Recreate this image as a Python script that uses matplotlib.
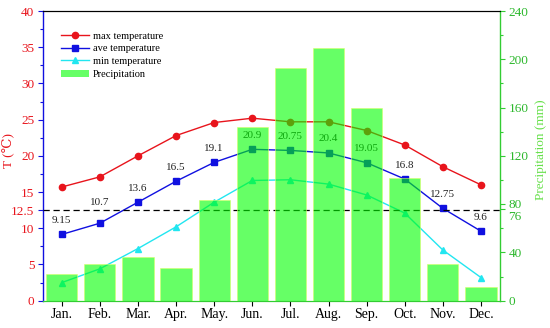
import matplotlib
matplotlib.use("Agg")
import matplotlib.pyplot as plt
import numpy as np
from matplotlib.ticker import MultipleLocator
from matplotlib.patches import Patch
from matplotlib.lines import Line2D
import matplotlib.transforms as mtransforms

months = ["Jan.", "Feb.", "Mar.", "Apr.", "May.", "Jun.", "Jul.", "Aug.", "Sep.", "Oct.", "Nov.", "Dec."]
t_max = [15.7, 17.1, 20.0, 22.8, 24.6, 25.2, 24.7, 24.7, 23.5, 21.5, 18.5, 16.0]
t_ave = [9.15, 10.7, 13.6, 16.5, 19.1, 20.9, 20.75, 20.4, 19.05, 16.8, 12.75, 9.6]
t_min = [2.5, 4.4, 7.2, 10.2, 13.6, 16.6, 16.7, 16.1, 14.6, 12.1, 7.0, 3.2]
precip = [22, 30.7, 36.2, 26.8, 83.4, 144.2, 193, 209, 159.4, 101.4, 30.1, 11.6]
ave_labels = ["9.15", "10.7", "13.6", "16.5", "19.1", "20.9", "20.75", "20.4", "19.05", "16.8", "12.75", "9.6"]
left_ticks = [0, 5, 10, 12.5, 15, 20, 25, 30, 35, 40]
right_ticks = [0, 40, 76, 80, 120, 160, 200, 240]
threshold = 12.5

plt.rcParams['font.family'] = ['Liberation Serif', 'DejaVu Serif']
RED = '#e8141c'
BLUE = '#1010e0'
CYAN = '#22e6f0'
GREEN_BAR = (0.0, 1.0, 0.0, 0.6)
GREEN_AX = '#33cc33'
GREEN_TXT = '#2db82d'

fig = plt.figure(figsize=(5.5, 3.28), dpi=100)
ax = fig.add_axes([42.7/550, 1 - 300.7/328, (500 - 42.7)/550, (300.7 - 11)/328])
x = np.arange(len(months))

ax.plot(x, t_max, '-o', color=RED, lw=1.0, ms=4.5, zorder=3, label='max temperature')
ax.plot(x, t_ave, '-s', color=BLUE, lw=1.0, ms=4.5, zorder=3, label='ave temperature')
ax.plot(x, t_min, '-^', color=CYAN, lw=1.0, ms=5, zorder=3, label='min temperature')
ax.axhline(threshold, color='black', ls=(0, (5, 3)), lw=0.9, zorder=3)
px_per_unit = (300.7 - 11) / 40.0
for xi, yi, s in zip(x, t_ave, ave_labels):
    off = 14
    # lift a label clear of the dashed threshold line if it would sit on it
    if abs(yi + off / px_per_unit - threshold) < 0.5:
        off = 21
    ax.annotate(s, (xi, yi), xytext=(0, off), textcoords='offset pixels',
                ha='center', va='center', fontsize=8, color='#222222', zorder=3)

ax.set_xlim(-0.5, 11.5)
ax.set_ylim(0, 40)
ax.set_xticks(x)
ax.set_xticklabels(months, fontsize=10)
ax.set_yticks(left_ticks)
ax.set_yticklabels([("%g" % v) for v in left_ticks], fontsize=9.5, color=RED)
ax.yaxis.set_minor_locator(MultipleLocator(2.5))
ax.tick_params(axis='y', colors=BLUE, labelcolor=RED, length=3.5, width=0.8, pad=2.5)
ax.tick_params(axis='y', which='minor', colors=BLUE, length=2, width=0.8)
ax.tick_params(axis='x', length=3.5, width=0.8, colors='black', pad=2)
ax.set_ylabel('T (℃)', color=RED, fontsize=9.5)
ax.yaxis.set_label_coords(-0.061, 0.52)
ax.spines['left'].set_color(BLUE)
ax.spines['left'].set_linewidth(1.0)
ax.spines['bottom'].set_color(GREEN_AX)
ax.spines['top'].set_color('black')
ax.spines['right'].set_visible(False)

ax2 = ax.twinx()
ax2.bar(x, precip, width=0.82, color=GREEN_BAR, edgecolor=(0.85, 1.0, 0.4, 0.8), lw=0.5, zorder=4)
ax2.set_ylim(0, 240)
ax2.set_yticks(right_ticks)
ax2.set_yticklabels([("%g" % v) for v in right_ticks], fontsize=9.5, color=GREEN_TXT)
ax2.yaxis.set_minor_locator(MultipleLocator(20))
ax2.tick_params(axis='y', colors=GREEN_AX, labelcolor=GREEN_TXT, length=3.5, width=0.8, pad=2.5)
ax2.tick_params(axis='y', which='minor', colors=GREEN_AX, length=2, width=0.8)
ax2.set_ylabel('Precipitation (mm)', color='#66e04a', fontsize=9.5)
ax2.yaxis.set_label_coords(1.0755, 0.52)
ax2.spines['right'].set_color(GREEN_AX)
ax2.spines['right'].set_linewidth(1.0)
ax2.spines['left'].set_visible(False)
ax2.spines['top'].set_color('black')
ax2.spines['bottom'].set_color(GREEN_AX)

# separate the crowded 76 / 80 labels
for lab, val in zip(ax2.get_yticklabels(), right_ticks):
    if val == 76:
        lab.set_transform(lab.get_transform() + mtransforms.ScaledTranslation(0, -7/100, fig.dpi_scale_trans))
    elif val == 80:
        lab.set_transform(lab.get_transform() + mtransforms.ScaledTranslation(0, 1/100, fig.dpi_scale_trans))

handles = [
    Line2D([], [], color=RED, marker='o', lw=1.0, ms=4.5),
    Line2D([], [], color=BLUE, marker='s', lw=1.0, ms=4.5),
    Line2D([], [], color=CYAN, marker='^', lw=1.0, ms=5),
    Patch(facecolor=GREEN_BAR, edgecolor='none'),
]
ax2.legend(handles, ['max temperature', 'ave temperature', 'min temperature', 'Precipitation'],
           loc='upper left', bbox_to_anchor=(0.025, 0.955), frameon=False, fontsize=7.5,
           handlelength=2.6, labelspacing=0.33, handletextpad=0.4, borderpad=0.2)

fig.savefig('out.png', dpi=100)
